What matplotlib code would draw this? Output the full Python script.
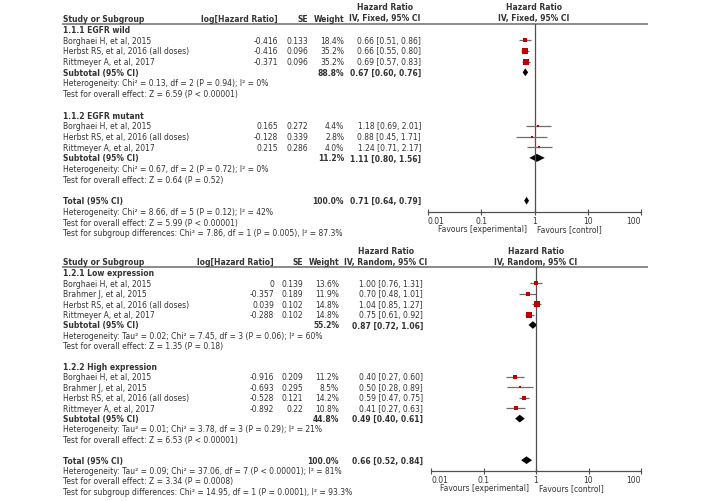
import numpy as np
import matplotlib
matplotlib.use("Agg")
import matplotlib.pyplot as plt
from matplotlib.ticker import FixedLocator, NullLocator

# ---- data, panel 1 (EGFR status, fixed effect) ----
studies_a = ["Borghaei H, et al, 2015", "Herbst RS, et al, 2016 (all doses)", "Rittmeyer A, et al, 2017"]
wild_loghr = [-0.416, -0.416, -0.371]
wild_se = [0.133, 0.096, 0.096]
wild_w = [18.4, 35.2, 35.2]
wild_hr = [0.66, 0.66, 0.69]
wild_lo = [0.51, 0.55, 0.57]
wild_hi = [0.86, 0.80, 0.83]
wild_sub = (88.8, 0.67, 0.60, 0.76)

mut_loghr = [0.165, -0.128, 0.215]
mut_se = [0.272, 0.339, 0.286]
mut_w = [4.4, 2.8, 4.0]
mut_hr = [1.18, 0.88, 1.24]
mut_lo = [0.69, 0.45, 0.71]
mut_hi = [2.01, 1.71, 2.17]
mut_sub = (11.2, 1.11, 0.80, 1.56)

total_a = (100.0, 0.71, 0.64, 0.79)
het_a = ["Heterogeneity: Chi\u00b2 = 0.13, df = 2 (P = 0.94); I\u00b2 = 0%",
         "Test for overall effect: Z = 6.59 (P < 0.00001)",
         "Heterogeneity: Chi\u00b2 = 0.67, df = 2 (P = 0.72); I\u00b2 = 0%",
         "Test for overall effect: Z = 0.64 (P = 0.52)",
         "Heterogeneity: Chi\u00b2 = 8.66, df = 5 (P = 0.12); I\u00b2 = 42%",
         "Test for overall effect: Z = 5.99 (P < 0.00001)",
         "Test for subgroup differences: Chi\u00b2 = 7.86, df = 1 (P = 0.005), I\u00b2 = 87.3%"]

# ---- data, panel 2 (expression level, random effects) ----
studies_b = ["Borghaei H, et al, 2015", "Brahmer J, et al, 2015", "Herbst RS, et al, 2016 (all doses)", "Rittmeyer A, et al, 2017"]
low_loghr = [0, -0.357, 0.039, -0.288]
low_se = [0.139, 0.189, 0.102, 0.102]
low_w = [13.6, 11.9, 14.8, 14.8]
low_hr = [1.00, 0.70, 1.04, 0.75]
low_lo = [0.76, 0.48, 0.85, 0.61]
low_hi = [1.31, 1.01, 1.27, 0.92]
low_sub = (55.2, 0.87, 0.72, 1.06)

high_loghr = [-0.916, -0.693, -0.528, -0.892]
high_se = [0.209, 0.295, 0.121, 0.22]
high_w = [11.2, 8.5, 14.2, 10.8]
high_hr = [0.40, 0.50, 0.59, 0.41]
high_lo = [0.27, 0.28, 0.47, 0.27]
high_hi = [0.60, 0.89, 0.75, 0.63]
high_sub = (44.8, 0.49, 0.40, 0.61)

total_b = (100.0, 0.66, 0.52, 0.84)
het_b = ["Heterogeneity: Tau\u00b2 = 0.02; Chi\u00b2 = 7.45, df = 3 (P = 0.06); I\u00b2 = 60%",
         "Test for overall effect: Z = 1.35 (P = 0.18)",
         "Heterogeneity: Tau\u00b2 = 0.01; Chi\u00b2 = 3.78, df = 3 (P = 0.29); I\u00b2 = 21%",
         "Test for overall effect: Z = 6.53 (P < 0.00001)",
         "Heterogeneity: Tau\u00b2 = 0.09; Chi\u00b2 = 37.06, df = 7 (P < 0.00001); I\u00b2 = 81%",
         "Test for overall effect: Z = 3.34 (P = 0.0008)",
         "Test for subgroup differences: Chi\u00b2 = 14.95, df = 1 (P = 0.0001), I\u00b2 = 93.3%"]

ticks = [0.01, 0.1, 1, 10, 100]
tick_labels = ["0.01", "0.1", "1", "10", "100"]

# ---- figure ----
W, H = 705, 502
FS = 5.5
TXT = "#333333"
RED = "#c00000"
GREY = "#6e6e6e"
DARK = "#505050"

plt.rcParams["font.family"] = "DejaVu Sans"
fig = plt.figure(figsize=(W / 100, H / 100), dpi=100)
ax0 = fig.add_axes([0, 0, 1, 1])
ax0.set_xlim(0, W)
ax0.set_ylim(H, 0)
ax0.axis("off")


def txt(x, y, s, ha="left", bold=False):
    ax0.text(x, y, s, ha=ha, va="center", fontsize=FS, color=TXT,
             fontweight="bold" if bold else "normal")


def fmt_ci(hr, lo, hi):
    return f"{hr:.2f} [{lo:.2f}, {hi:.2f}]"


def draw_panel(p):
    y0, dy = p["y0"], p["dy"]
    row = lambda r: y0 + r * dy
    # header
    txt(p["cx_hr"], p["head_y"] - 11, "Hazard Ratio", ha="center", bold=True)
    txt(p["cx_hr"], p["head_y"], p["method"], ha="center", bold=True)
    txt(p["x_one"], p["head_y"] - 11, "Hazard Ratio", ha="center", bold=True)
    txt(p["x_one"], p["head_y"], p["method"], ha="center", bold=True)
    txt(63, p["head_y"], "Study or Subgroup", bold=True)
    txt(p["x_log"], p["head_y"], "log[Hazard Ratio]", ha="right", bold=True)
    txt(p["x_se"], p["head_y"], "SE", ha="right", bold=True)
    txt(p["x_w"], p["head_y"], "Weight", ha="right", bold=True)
    ax0.plot([63, 647], [p["line_y"], p["line_y"]], color="#8a8a8a", lw=1.4)

    # forest axes, y in row units
    fx = fig.add_axes([p["f_left"] / W, 1 - p["axis_y"] / H,
                       (p["f_right"] - p["f_left"]) / W, (p["axis_y"] - p["line_y"]) / H])
    fx.patch.set_alpha(0)
    fx.set_xscale("log")
    fx.set_xlim(0.01, 100)
    fx.set_ylim((p["axis_y"] - y0) / dy, (p["line_y"] - y0) / dy)
    for s in ["top", "left", "right"]:
        fx.spines[s].set_visible(False)
    fx.spines["bottom"].set_color(DARK)
    fx.spines["bottom"].set_linewidth(0.9)
    fx.yaxis.set_visible(False)
    fx.xaxis.set_major_locator(FixedLocator(ticks))
    fx.xaxis.set_minor_locator(NullLocator())
    fx.set_xticklabels(tick_labels)
    fx.tick_params(axis="x", direction="inout", length=5, width=0.8, color=DARK,
                   labelsize=FS, labelcolor=TXT, pad=0.5)
    labs = fx.get_xticklabels()
    labs[0].set_ha("left")
    labs[-1].set_ha("right")
    fx.axvline(1, color=DARK, lw=0.9)

    r = 0
    for g, name in zip(p["groups"], p["group_names"]):
        txt(63, row(r), name, bold=True)
        r += 1
        for i, st in enumerate(g["studies"]):
            txt(63, row(r), st)
            txt(p["x_log"], row(r), f"{g['loghr'][i]:g}", ha="right")
            txt(p["x_se"], row(r), f"{g['se'][i]:g}", ha="right")
            txt(p["x_w"], row(r), f"{g['w'][i]:.1f}%", ha="right")
            txt(p["x_ci"], row(r), fmt_ci(g["hr"][i], g["lo"][i], g["hi"][i]), ha="right")
            fx.plot([g["lo"][i], g["hi"][i]], [r, r], color=GREY, lw=0.9, solid_capstyle="butt")
            fx.plot(g["hr"][i], r, marker="s", color=RED,
                    ms=max(p["box"] * g["w"][i], 1.6), mew=0)
            r += 1
        sw, shr, slo, shi = g["sub"]
        txt(63, row(r), "Subtotal (95% CI)", bold=True)
        txt(p["x_w"], row(r), f"{sw:.1f}%", ha="right", bold=True)
        txt(p["x_ci"], row(r), fmt_ci(shr, slo, shi), ha="right", bold=True)
        fx.fill([slo, shr, shi, shr], [r, r - 0.37, r, r + 0.37], color="black", lw=0)
        r += 1
        txt(63, row(r), g["het"][0]); r += 1
        txt(63, row(r), g["het"][1]); r += 2
    tw, thr, tlo, thi = p["total"]
    txt(63, row(r), "Total (95% CI)", bold=True)
    txt(p["x_w"], row(r), f"{tw:.1f}%", ha="right", bold=True)
    txt(p["x_ci"], row(r), fmt_ci(thr, tlo, thi), ha="right", bold=True)
    fx.fill([tlo, thr, thi, thr], [r, r - 0.37, r, r + 0.37], color="black", lw=0)
    for k, s in enumerate(p["het_total"]):
        txt(63, row(r + 1 + k), s)
    fy = p["axis_y"] + 16.5
    txt(p["x_one"] - 7, fy, "Favours [experimental]", ha="right")
    txt(p["x_one"] + 3, fy, "Favours [control]", ha="left")


panel_a = dict(
    y0=30.5, dy=10.7, head_y=19, line_y=25, axis_y=213, box=0.136,
    method="IV, Fixed, 95% CI", cx_hr=385,
    x_log=278, x_se=308, x_w=344, x_ci=421,
    f_left=428, f_right=641, x_one=534,
    group_names=["1.1.1 EGFR wild", "1.1.2 EGFR mutant"],
    groups=[dict(studies=studies_a, loghr=wild_loghr, se=wild_se, w=wild_w, hr=wild_hr,
                 lo=wild_lo, hi=wild_hi, sub=wild_sub, het=het_a[0:2]),
            dict(studies=studies_a, loghr=mut_loghr, se=mut_se, w=mut_w, hr=mut_hr,
                 lo=mut_lo, hi=mut_hi, sub=mut_sub, het=het_a[2:4])],
    total=total_a, het_total=het_a[4:7],
)

panel_b = dict(
    y0=274, dy=10.4, head_y=263, line_y=268, axis_y=472, box=0.25,
    method="IV, Random, 95% CI", cx_hr=386,
    x_log=274, x_se=303, x_w=339, x_ci=423,
    f_left=431, f_right=641, x_one=536,
    group_names=["1.2.1 Low expression", "1.2.2 High expression"],
    groups=[dict(studies=studies_b, loghr=low_loghr, se=low_se, w=low_w, hr=low_hr,
                 lo=low_lo, hi=low_hi, sub=low_sub, het=het_b[0:2]),
            dict(studies=studies_b, loghr=high_loghr, se=high_se, w=high_w, hr=high_hr,
                 lo=high_lo, hi=high_hi, sub=high_sub, het=het_b[2:4])],
    total=total_b, het_total=het_b[4:7],
)

draw_panel(panel_a)
draw_panel(panel_b)

fig.savefig("out.png", dpi=100, facecolor="white")
